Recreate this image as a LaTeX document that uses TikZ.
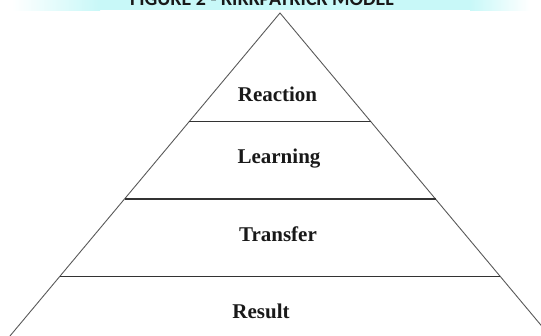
\documentclass[tikz,border=0pt]{standalone}
\usepackage{fontspec}
\setmainfont{Liberation Serif}
\newfontfamily\titlefont{Carlito}
\begin{document}
\begin{tikzpicture}[x=1pt,y=-1pt,
  side/.style={draw=black!65,line width=0.9pt},
  tier/.style={draw=black!80,line width=1.1pt},
  tierlabel/.style={font=\fontsize{21}{24}\selectfont\bfseries,anchor=base,inner sep=0pt,text=black!90},
  banner/.style={font=\titlefont\fontsize{20}{24}\selectfont\bfseries,anchor=base,inner sep=0pt,text=black!90}]
\definecolor{bannercyan}{RGB}{200,248,248}
\useasboundingbox (0,0) rectangle (541,336);
\clip (0,0) rectangle (541,336);
% heading band with soft ends
\shade[left color=white,right color=bannercyan] (12,-2) rectangle (100,10.5);
\fill[bannercyan] (100,-2) rectangle (470,10.5);
\shade[left color=bannercyan,right color=white] (470,-2) rectangle (530,10.5);
\node[banner] (title) at (262,6) {FIGURE 2 - KIRKPATRICK MODEL};
% pyramid outline
\pgfmathsetmacro{\k}{0.836}
\coordinate (apex) at (280,13);
\coordinate (bl) at ({280-\k*340},353);
\coordinate (br) at ({280+\k*340},353);
\draw[side] (bl) -- (apex) -- (br);
% tier dividers
\foreach \y/\n in {121.7/a,199/b,276.7/c}{
  \coordinate (l\n) at ({280-\k*(\y-13)},\y);
  \coordinate (r\n) at ({280+\k*(\y-13)},\y);
  \draw[tier] (l\n) -- (r\n);
}
% tier labels
\node[tierlabel] (reaction) at (277.5,101.5) {Reaction};
\node[tierlabel] (learning) at (279,163.5) {Learning};
\node[tierlabel] (transfer) at (278,241.5) {Transfer};
\node[tierlabel] (result) at (261,319) {Result};
\end{tikzpicture}
\end{document}
